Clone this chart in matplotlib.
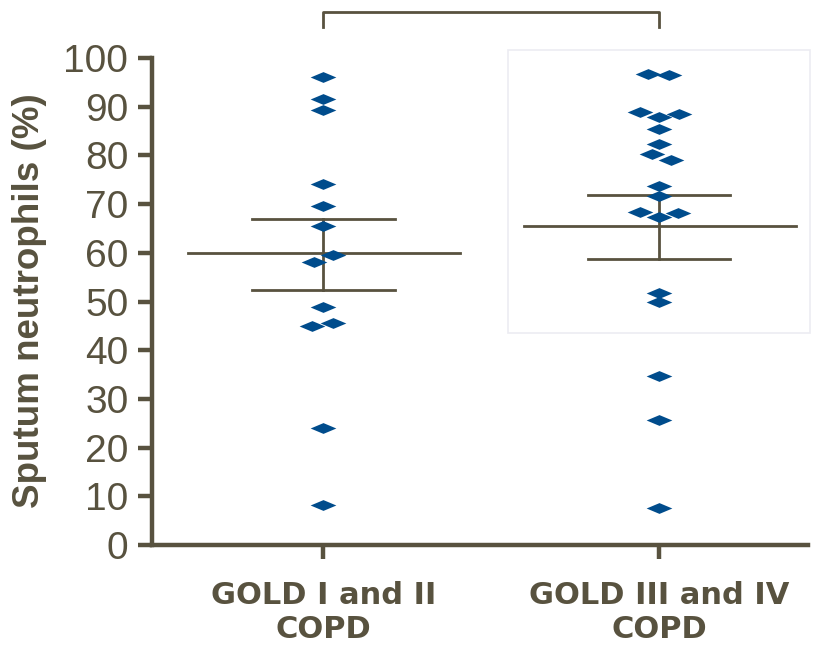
import matplotlib
matplotlib.use('Agg')
import matplotlib.pyplot as plt
from matplotlib.path import Path
from matplotlib.patches import Rectangle

# groups and values
groups = ['GOLD I and II\nCOPD', 'GOLD III and IV\nCOPD']

gold12 = [96.0, 91.5, 89.3, 74.1, 69.6, 65.5, 59.5, 58.1, 48.8, 45.5, 45.0, 24.1, 8.2]
gold12_jitter = [0, 0, 0, 0, 0, 0, 0.029, -0.027, 0, 0.03, -0.034, 0, 0]

gold34 = [96.7, 96.6, 89.0, 87.9, 88.6, 85.4, 82.3, 80.3, 79.1, 73.8, 71.6,
          68.4, 67.3, 68.1, 51.7, 49.8, 34.7, 25.7, 7.6]
gold34_jitter = [-0.033, 0.029, -0.057, 0, 0.06, 0, 0, -0.022, 0.035, 0, 0,
                 -0.057, 0, 0.057, 0, 0, 0, 0, 0]

means = [59.9, 65.6]
err_low = [52.4, 58.8]
err_high = [66.9, 71.9]

yticks = [0, 10, 20, 30, 40, 50, 60, 70, 80, 90, 100]

dark = '#58523f'
blue = '#004c8c'

# flat diamond marker
diamond = Path([(-1, 0), (0, 0.42), (1, 0), (0, -0.42), (-1, 0)],
               [Path.MOVETO, Path.LINETO, Path.LINETO, Path.LINETO, Path.CLOSEPOLY])

fig = plt.figure(figsize=(8.21, 6.5), dpi=100)
ax = fig.add_axes([0.1851, 0.1615, 0.7991, 0.7493])

# faint box behind the second group (present in the reference)
fig.patches.append(Rectangle((508 / 821, 1 - 333 / 650), 302 / 821, 283 / 650,
                             transform=fig.transFigure, fill=False,
                             edgecolor='#ececf2', linewidth=1.2, zorder=0))

for i, (vals, jit) in enumerate([(gold12, gold12_jitter), (gold34, gold34_jitter)]):
    xs = [i + j for j in jit]
    ax.plot(xs, vals, linestyle='none', marker=diamond, markersize=18.5,
            color=blue, markeredgewidth=0, zorder=3)
    # mean line and error bar
    ax.plot([i - 0.403, i + 0.408], [means[i], means[i]], color=dark, lw=2.0, zorder=2)
    ax.plot([i, i], [err_low[i], err_high[i]], color=dark, lw=2.0, zorder=2)
    for e in (err_low[i], err_high[i]):
        ax.plot([i - 0.212, i + 0.212], [e, e], color=dark, lw=2.0, zorder=2)

# significance bracket
ax.plot([0, 0, 1, 1], [106.4, 109.4, 109.4, 106.4], color=dark, lw=2.0,
        clip_on=False)

ax.set_xlim(-0.51, 1.443)
ax.set_ylim(0, 100)
ax.set_xticks([0, 1])
ax.set_xticklabels(groups, fontsize=22, fontweight='bold', color=dark,
                   family='DejaVu Sans', linespacing=1.2)
ax.set_yticks(yticks)
ax.set_yticklabels([str(t) for t in yticks], fontsize=28, color=dark,
                   family='Liberation Sans')

for side in ['top', 'right']:
    ax.spines[side].set_visible(False)
for side in ['left', 'bottom']:
    ax.spines[side].set_linewidth(3.2)
    ax.spines[side].set_color(dark)
    ax.spines[side].set_capstyle('projecting')

ax.tick_params(axis='y', length=10, width=3.2, color=dark, pad=7)
ax.tick_params(axis='x', length=10, width=3.2, color=dark, pad=16)

fig.text(30 / 821, 1 - 301 / 650, 'Sputum neutrophils (%)', rotation=90,
         ha='center', va='center', fontsize=26.5, fontweight='bold',
         color=dark, family='Liberation Sans')

fig.savefig('out.png', dpi=100)
